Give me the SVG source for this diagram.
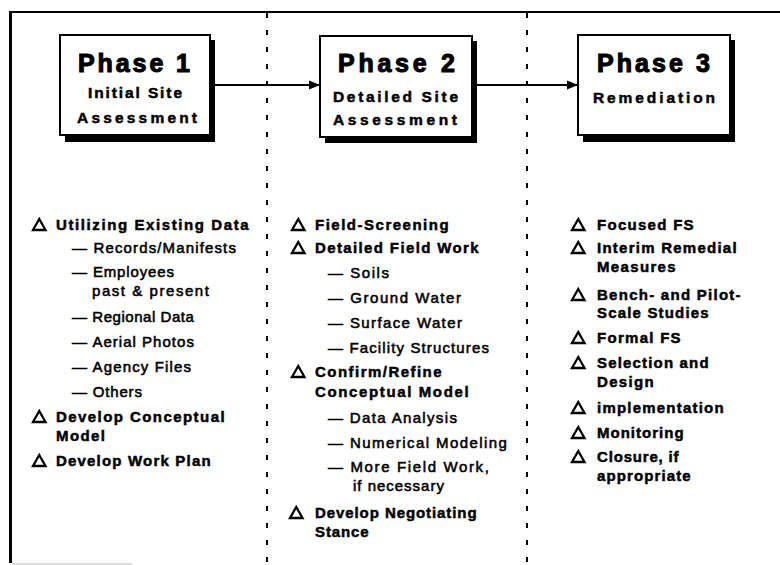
<svg xmlns="http://www.w3.org/2000/svg" xmlns:xlink="http://www.w3.org/1999/xlink" width="780" height="565" viewBox="0 0 780 565">
  <style>
    .frame { stroke: #000; fill: none; }
    .divider { stroke: #000; stroke-width: 2; stroke-dasharray: 5 12; fill: none; }
    .shadow { fill: #000; }
    .box { fill: #fff; stroke: #000; stroke-width: 2; }
    .title { font-family: "Liberation Sans", Arial, sans-serif; font-weight: bold; font-size: 25px; fill: #000; stroke: #000; stroke-width: 1.1; }
    .sub { font-family: "Liberation Sans", Arial, sans-serif; font-weight: bold; font-size: 15.5px; fill: #000; stroke: #000; stroke-width: 0.5; }
    .item { font-family: "Liberation Sans", Arial, sans-serif; font-weight: bold; font-size: 15px; letter-spacing: 1.4px; fill: #000; stroke: #000; stroke-width: 0.5; }
    .detail { font-family: "Liberation Sans", Arial, sans-serif; font-size: 15px; letter-spacing: 1.1px; fill: #000; stroke: #000; stroke-width: 0.55; }
    .tri { fill: none; stroke: #000; stroke-width: 2.3; stroke-linejoin: miter; }
    .link { stroke: #000; stroke-width: 2; fill: none; }
  </style>
  <defs>
    <path id="tri" class="tri" d="M0,0 L12.5,0 L6.25,-11 Z"/>
    <marker id="head" markerWidth="11" markerHeight="10" refX="11" refY="5" orient="auto" markerUnits="userSpaceOnUse">
      <path d="M0,0.5 L11,5 L0,9.5 Z" fill="#000"/>
    </marker>
  </defs>

  <rect width="780" height="565" fill="#fff"/>

  <!-- outer frame: left and top rules, short base rule -->
  <line class="frame" x1="10.5" y1="11" x2="10.5" y2="563" stroke-width="3"/>
  <line class="frame" x1="9" y1="12" x2="780" y2="12" stroke-width="2"/>
  <line x1="12" y1="564" x2="132" y2="564" stroke="#bbb" stroke-width="1"/>

  <!-- column dividers -->
  <line class="divider" x1="267" y1="13" x2="267" y2="565"/>
  <line class="divider" x1="527" y1="13" x2="527" y2="565"/>

  <!-- phase boxes -->
  <g id="phase1">
    <rect class="shadow" x="65" y="40" width="150" height="102"/>
    <rect class="box" x="60" y="35" width="150" height="100"/>
    <text class="title" x="78" y="72" textLength="112" lengthAdjust="spacing">Phase 1</text>
    <text class="sub" x="88" y="98" textLength="94" lengthAdjust="spacing">Initial Site</text>
    <text class="sub" x="77" y="123" textLength="120" lengthAdjust="spacing">Assessment</text>
  </g>

  <g id="phase2">
    <rect class="shadow" x="325" y="41" width="152" height="102"/>
    <rect class="box" x="320" y="36" width="152" height="101"/>
    <text class="title" x="338" y="72" textLength="117" lengthAdjust="spacing">Phase 2</text>
    <text class="sub" x="333" y="102" textLength="125" lengthAdjust="spacing">Detailed Site</text>
    <text class="sub" x="333" y="125" textLength="124" lengthAdjust="spacing">Assessment</text>
  </g>

  <g id="phase3">
    <rect class="shadow" x="583" y="40" width="152" height="102"/>
    <rect class="box" x="578" y="35" width="152" height="100"/>
    <text class="title" x="597" y="72" textLength="113" lengthAdjust="spacing">Phase 3</text>
    <text class="sub" x="593" y="103" textLength="122" lengthAdjust="spacing">Remediation</text>
  </g>

  <!-- flow between phases -->
  <g id="connectors">
    <line class="link" x1="215" y1="85" x2="320" y2="85" marker-end="url(#head)"/>
    <line class="link" x1="477" y1="85" x2="578" y2="85" marker-end="url(#head)"/>
  </g>

  <!-- phase 1 tasks -->
  <g id="tasks1">
    <use xlink:href="#tri" x="33" y="230"/>
    <text class="item" x="56" y="230" textLength="194" lengthAdjust="spacing">Utilizing Existing Data</text>
    <text class="detail" x="72" y="253" textLength="165" lengthAdjust="spacing">— Records/Manifests</text>
    <text class="detail" x="72" y="277" textLength="103" lengthAdjust="spacing">— Employees</text>
    <text class="detail" x="92" y="296" textLength="118" lengthAdjust="spacing">past &amp; present</text>
    <text class="detail" x="72" y="322" textLength="123" lengthAdjust="spacing">— Regional Data</text>
    <text class="detail" x="72" y="347" textLength="123" lengthAdjust="spacing">— Aerial Photos</text>
    <text class="detail" x="72" y="372" textLength="120" lengthAdjust="spacing">— Agency Files</text>
    <text class="detail" x="72" y="397" textLength="71" lengthAdjust="spacing">— Others</text>
    <use xlink:href="#tri" x="33" y="422"/>
    <text class="item" x="56" y="422" textLength="170" lengthAdjust="spacing">Develop Conceptual</text>
    <text class="item" x="56" y="441">Model</text>
    <use xlink:href="#tri" x="33" y="466"/>
    <text class="item" x="56" y="466" textLength="156" lengthAdjust="spacing">Develop Work Plan</text>
  </g>

  <!-- phase 2 tasks -->
  <g id="tasks2">
    <use xlink:href="#tri" x="292" y="230"/>
    <text class="item" x="315" y="230" textLength="135" lengthAdjust="spacing">Field-Screening</text>
    <use xlink:href="#tri" x="292" y="253"/>
    <text class="item" x="315" y="253" textLength="165" lengthAdjust="spacing">Detailed Field Work</text>
    <text class="detail" x="328" y="278" textLength="62" lengthAdjust="spacing">— Soils</text>
    <text class="detail" x="328" y="303" textLength="134" lengthAdjust="spacing">— Ground Water</text>
    <text class="detail" x="328" y="328" textLength="135" lengthAdjust="spacing">— Surface Water</text>
    <text class="detail" x="328" y="353" textLength="162" lengthAdjust="spacing">— Facility Structures</text>
    <use xlink:href="#tri" x="292" y="377"/>
    <text class="item" x="315" y="377" textLength="128" lengthAdjust="spacing">Confirm/Refine</text>
    <text class="item" x="315" y="397" textLength="155" lengthAdjust="spacing">Conceptual Model</text>
    <text class="detail" x="328" y="423" textLength="130" lengthAdjust="spacing">— Data Analysis</text>
    <text class="detail" x="328" y="448" textLength="180" lengthAdjust="spacing">— Numerical Modeling</text>
    <text class="detail" x="328" y="472" textLength="162" lengthAdjust="spacing">— More Field Work,</text>
    <text class="detail" x="353" y="491" textLength="92" lengthAdjust="spacing">if necessary</text>
    <use xlink:href="#tri" x="290" y="518"/>
    <text class="item" x="315" y="518" textLength="163" lengthAdjust="spacing">Develop Negotiating</text>
    <text class="item" x="315" y="537" textLength="55" lengthAdjust="spacing">Stance</text>
  </g>

  <!-- phase 3 tasks -->
  <g id="tasks3">
    <use xlink:href="#tri" x="572" y="230"/>
    <text class="item" x="597" y="230" textLength="98" lengthAdjust="spacing">Focused FS</text>
    <use xlink:href="#tri" x="572" y="253"/>
    <text class="item" x="597" y="253" textLength="141" lengthAdjust="spacing">Interim Remedial</text>
    <text class="item" x="597" y="272" textLength="80" lengthAdjust="spacing">Measures</text>
    <use xlink:href="#tri" x="572" y="300"/>
    <text class="item" x="597" y="300" textLength="145" lengthAdjust="spacing">Bench- and Pilot-</text>
    <text class="item" x="597" y="318" textLength="113" lengthAdjust="spacing">Scale Studies</text>
    <use xlink:href="#tri" x="572" y="343"/>
    <text class="item" x="597" y="343" textLength="85" lengthAdjust="spacing">Formal FS</text>
    <use xlink:href="#tri" x="572" y="368"/>
    <text class="item" x="597" y="368" textLength="113" lengthAdjust="spacing">Selection and</text>
    <text class="item" x="597" y="387" textLength="58" lengthAdjust="spacing">Design</text>
    <use xlink:href="#tri" x="572" y="413"/>
    <text class="item" x="597" y="413" textLength="128" lengthAdjust="spacing">implementation</text>
    <use xlink:href="#tri" x="572" y="438"/>
    <text class="item" x="597" y="438" textLength="88" lengthAdjust="spacing">Monitoring</text>
    <use xlink:href="#tri" x="572" y="462"/>
    <text class="item" x="597" y="462" textLength="83" lengthAdjust="spacing">Closure, if</text>
    <text class="item" x="597" y="481" textLength="95" lengthAdjust="spacing">appropriate</text>
  </g>
</svg>
